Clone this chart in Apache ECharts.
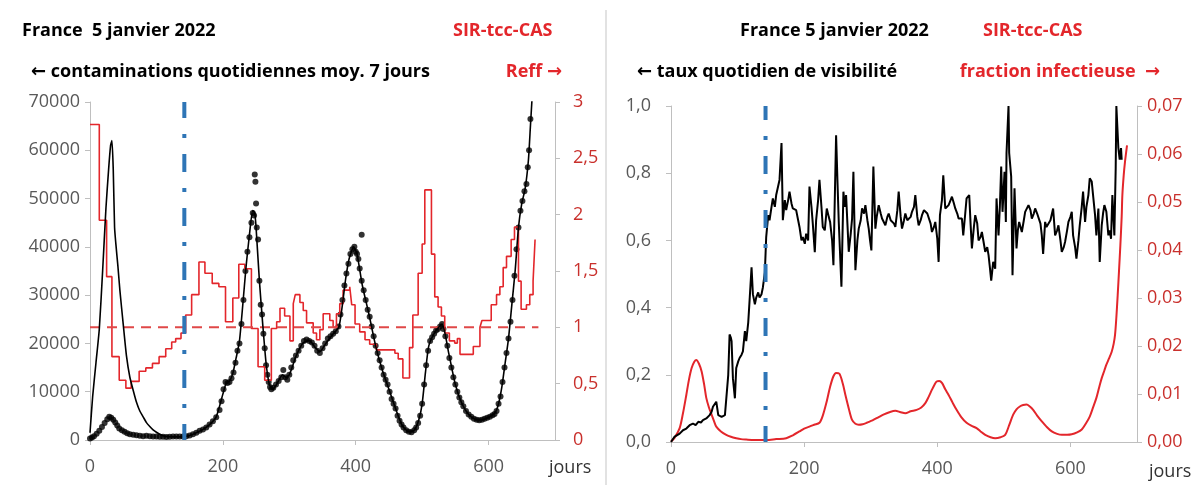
<!DOCTYPE html>
<html>
<head>
<meta charset="utf-8">
<script src="https://cdn.jsdelivr.net/npm/echarts@6/dist/echarts.min.js"></script>
<style>
  html, body { margin: 0; padding: 0; background: #fff; }
  #chart { width: 1195px; height: 485px; }
</style>
</head>
<body>
<div id="chart"></div>
<script>
// cas déclarés, moyenne 7 jours (points)
const reportedCases = [
  [0,300],[3,500],[6,800],[10,1300],[14,1900],[18,2700],[22,3500],[26,4300],[29,4800],[32,4600],
  [35,4200],[38,3600],[41,3000],[44,2400],[48,2000],[52,1700],[56,1400],[60,1200],[65,1100],[70,1000],
  [75,900],[80,800],[85,900],[90,800],[95,700],[100,700],[105,650],[110,650],[115,600],[120,650],
  [125,700],[130,700],[135,700],[140,750],[145,800],[150,950],[155,1200],[160,1500],[165,1900],[170,2200],
  [175,2600],[180,3200],[185,3900],[190,4700],[195,6200],[198,8000],[201,10500],[204,12000],[207,11800],[210,12000],
  [213,12800],[216,14000],[219,16000],[222,18500],[225,20000],[228,24000],[231,29000],[234,35000],[237,39000],[240,42000],
  [243,45000],[245,47000],[247,46500],[248,55000],[249,53500],[250,49000],[251,44000],[253,41500],[255,33000],[257,28000],
  [259,26000],[261,22000],[263,19000],[265,15500],[267,13500],[269,12000],[271,11000],[273,10500],[276,10800],[280,11500],
  [284,12200],[288,13000],[291,14500],[294,13000],[297,12500],[300,13500],[303,15000],[306,16500],[310,17500],[314,18500],
  [318,19500],[322,20500],[326,20800],[330,20500],[334,20200],[338,19500],[342,18500],[346,18000],[350,19000],[354,20000],
  [358,21000],[362,21500],[366,22000],[370,22500],[374,23500],[377,26000],[380,29000],[383,32000],[386,34500],[389,36500],
  [392,38500],[395,39500],[398,40000],[400,39000],[402,38500],[404,37500],[406,35500],[409,42500],[409,33000],[412,31000],
  [415,29000],[418,27000],[421,25500],[424,23500],[427,21500],[430,19500],[433,18000],[436,16500],[439,15000],[442,13500],
  [445,12500],[448,11500],[451,10000],[454,8500],[457,7500],[460,6500],[463,5000],[466,4000],[469,3200],[472,2600],
  [476,2000],[480,1700],[484,1600],[488,2000],[491,2600],[494,3500],[497,5000],[500,7500],[503,11500],[506,15500],
  [509,18500],[512,20500],[515,21300],[518,22000],[521,22700],[524,23000],[527,23500],[530,24000],[532,23000],[535,21500],
  [538,19500],[541,17000],[544,15000],[547,13000],[550,11500],[553,10000],[556,8800],[559,7800],[562,7000],[566,6000],
  [570,5300],[574,4800],[578,4400],[582,4200],[586,4100],[590,4200],[594,4400],[598,4600],[602,4800],[606,5100],
  [609,5400],[612,6000],[615,7500],[618,9000],[621,12000],[624,15000],[627,18000],[630,21000],[633,24500],[636,29000],
  [639,34000],[642,39500],[645,44000],[648,47500],[651,49500],[654,51500],[657,53000],[659,56500],[661,60000],[663,66500]
];

// contaminations du modèle SIR (trait fin)
const modelCases = [
  [0,1500],[4,9000],[9,16000],[14,23000],[19,35000],[24,48000],[28,56000],[31,61000],[33,62000],[35,56000],
  [37,44000],[39,40500],[42,36000],[45,31000],[50,24000],[55,17300],[60,13000],[65,10300],[70,7800],[75,6000],
  [80,4800],[85,3600],[90,2800],[95,2100],[100,1600],[105,1200],[110,900],[115,750],[120,700],[130,650],
  [140,700],[150,950],[160,1500],[170,2200],[180,3200],[190,4800],[200,9500],[205,11800],[210,12200],[215,13800],
  [220,17000],[225,20500],[230,28000],[235,36000],[240,42500],[245,47500],[248,47000],[250,44000],[255,33000],[260,24000],
  [265,16000],[270,11500],[275,10500],[280,11300],[290,13500],[295,13000],[300,13500],[310,17300],[320,20000],[330,20600],
  [340,19000],[346,18300],[355,20000],[365,21800],[375,23500],[385,33500],[390,37500],[397,40000],[402,38500],[410,32000],
  [420,26000],[430,19500],[440,14500],[450,10500],[460,6500],[470,3000],[480,1700],[488,2000],[495,4200],[500,7500],
  [505,14000],[510,19500],[520,22500],[530,24000],[540,18000],[550,11500],[560,7500],[570,5300],[580,4300],[590,4200],
  [600,4700],[610,5700],[615,7500],[620,11000],[625,16000],[630,21000],[635,28000],[640,35000],[645,44000],[650,49000],
  [655,52000],[660,58000],[663,65000],[666,72000]
];

// Reff par paliers (jour de début, valeur)
const reffSteps = [
  [0,2.80],[14,1.95],[25,1.45],[33,0.74],[44,0.53],[54,0.46],[62,0.52],[74,0.61],[84,0.64],[94,0.68],
  [104,0.74],[114,0.81],[123,0.87],[129,0.90],[137,0.95],[144,1.11],[153,1.29],[164,1.58],[173,1.48],[184,1.39],
  [194,1.36],[204,1.05],[215,1.26],[224,1.56],[233,1.52],[243,0.99],[253,0.65],[263,0.53],[273,0.99],[281,1.05],
  [286,1.17],[293,1.10],[301,0.88],[306,1.21],[309,1.29],[316,1.22],[321,1.15],[326,1.04],[336,0.95],[341,0.89],
  [346,0.98],[351,1.12],[361,1.06],[366,1.00],[371,1.12],[376,1.21],[381,1.33],[391,1.36],[394,1.20],[399,1.03],
  [406,0.96],[414,0.89],[421,0.85],[431,0.80],[451,0.80],[459,0.77],[464,0.72],[471,0.55],[481,0.82],[486,1.11],
  [494,1.48],[500,1.74],[504,2.22],[514,1.65],[519,1.27],[524,1.18],[529,1.10],[534,0.95],[541,0.88],[549,0.86],
  [553,0.90],[557,0.76],[577,0.83],[587,1.00],[590,1.06],[604,1.20],[612,1.29],[617,1.36],[622,1.53],[627,1.63],
  [634,1.78],[639,1.89],[645,1.41],[649,1.16],[657,1.20],[662,1.29],[667,1.41],[670,1.78]
];
const reffOne = [[0,1],[675,1]];

// taux quotidien de visibilité
const visibility = [
  [0,0.0],[5,0.015],[13,0.025],[18,0.035],[23,0.04],[28,0.05],[33,0.055],[37,0.05],[41,0.06],[45,0.058],
  [48,0.065],[53,0.07],[56,0.065],[58,0.08],[61,0.09],[63,0.105],[66,0.1],[68,0.12],[71,0.08],[74,0.085],
  [76,0.075],[79,0.08],[81,0.08],[84,0.075],[86,0.2],[88,0.32],[90,0.31],[91,0.3],[93,0.19],[96,0.13],
  [98,0.22],[101,0.24],[103,0.25],[106,0.26],[108,0.27],[111,0.33],[113,0.3],[116,0.355],[118,0.42],[121,0.52],
  [123,0.44],[126,0.41],[128,0.43],[131,0.445],[133,0.43],[136,0.44],[138,0.46],[141,0.505],[143,0.61],[146,0.675],
  [148,0.66],[151,0.7],[153,0.725],[156,0.7],[158,0.735],[161,0.74],[163,0.78],[166,0.89],[168,0.66],[171,0.72],
  [173,0.69],[176,0.72],[178,0.745],[181,0.71],[183,0.695],[186,0.7],[188,0.69],[191,0.66],[193,0.64],[196,0.6],
  [198,0.61],[201,0.59],[203,0.62],[206,0.6],[208,0.76],[211,0.7],[213,0.65],[216,0.565],[218,0.66],[221,0.72],
  [223,0.78],[226,0.7],[228,0.64],[231,0.63],[233,0.625],[234,0.695],[237,0.67],[239,0.655],[242,0.6],[244,0.526],
  [248,0.913],[250,0.78],[252,0.655],[256,0.462],[259,0.745],[261,0.7],[263,0.735],[265,0.65],[267,0.566],[270,0.62],
  [272,0.665],[274,0.804],[277,0.511],[280,0.6],[282,0.635],[285,0.66],[287,0.695],[290,0.68],[292,0.705],[295,0.66],
  [297,0.635],[299,0.6],[301,0.57],[304,0.82],[307,0.635],[309,0.67],[312,0.705],[315,0.68],[317,0.665],[320,0.66],
  [322,0.645],[325,0.67],[327,0.68],[330,0.66],[332,0.665],[335,0.65],[337,0.64],[340,0.69],[342,0.745],[345,0.67],
  [347,0.635],[350,0.66],[352,0.68],[355,0.66],[357,0.655],[360,0.67],[362,0.685],[365,0.7],[367,0.735],[370,0.67],
  [372,0.645],[375,0.66],[377,0.675],[380,0.69],[382,0.695],[385,0.68],[387,0.675],[390,0.65],[392,0.625],[395,0.64],
  [397,0.655],[400,0.605],[402,0.536],[404,0.675],[407,0.72],[409,0.794],[412,0.695],[415,0.7],[417,0.705],[420,0.72],
  [422,0.73],[425,0.71],[427,0.695],[430,0.68],[432,0.665],[435,0.67],[437,0.665],[439,0.615],[442,0.68],[444,0.725],
  [446,0.73],[448,0.735],[450,0.65],[452,0.576],[455,0.64],[457,0.675],[460,0.65],[462,0.6],[465,0.61],[467,0.625],
  [470,0.59],[472,0.566],[475,0.58],[477,0.556],[479,0.52],[481,0.48],[484,0.536],[487,0.516],[489,0.725],[492,0.615],
  [494,0.7],[496,0.82],[498,0.685],[501,0.804],[503,0.655],[504,0.86],[507,1.0],[508,0.86],[511,0.79],[513,0.496],
  [516,0.755],[519,0.576],[521,0.63],[523,0.655],[525,0.64],[527,0.625],[530,0.66],[532,0.685],[535,0.68],[537,0.705],
  [540,0.69],[542,0.665],[545,0.68],[547,0.695],[550,0.68],[552,0.685],[555,0.65],[557,0.615],[559,0.56],[562,0.655],
  [564,0.64],[567,0.645],[570,0.66],[572,0.665],[574,0.695],[577,0.615],[580,0.63],[582,0.645],[585,0.6],[587,0.566],
  [590,0.58],[592,0.596],[595,0.63],[597,0.655],[600,0.67],[602,0.685],[604,0.615],[607,0.58],[609,0.546],[612,0.6],
  [614,0.645],[617,0.7],[619,0.745],[622,0.655],[624,0.7],[627,0.735],[629,0.785],[632,0.775],[634,0.735],[637,0.675],
  [639,0.615],[642,0.695],[644,0.536],[647,0.645],[649,0.68],[651,0.705],[654,0.685],[657,0.615],[659,0.63],[661,0.605],
  [663,0.735],[666,0.615],[668,0.815],[669,1.0],[672,0.875],[674,0.84],[676,0.875],[677,0.84]
];

// fraction infectieuse
const infectious = [
  [0,0.0001],[5,0.0008],[13,0.0029],[18,0.006],[23,0.0098],[27,0.013],[31,0.0154],[35,0.0167],[38,0.0171],[42,0.0163],
  [46,0.0147],[50,0.0118],[53,0.0092],[57,0.0072],[61,0.0057],[65,0.0042],[68,0.0032],[75,0.0022],[83,0.0015],[90,0.0011],
  [98,0.0008],[105,0.0006],[113,0.0005],[125,0.0004],[143,0.0004],[158,0.0006],[173,0.0008],[183,0.0014],[193,0.0022],[200,0.0028],
  [208,0.0032],[215,0.0036],[223,0.004],[228,0.0055],[234,0.0085],[239,0.0115],[244,0.0137],[248,0.0144],[253,0.0142],[258,0.0122],
  [262,0.0098],[267,0.007],[272,0.0046],[277,0.0038],[282,0.0036],[288,0.0037],[294,0.004],[299,0.0043],[304,0.0046],[312,0.0052],
  [319,0.0057],[328,0.0062],[337,0.0065],[345,0.0062],[352,0.006],[360,0.0064],[369,0.0067],[376,0.0072],[382,0.0081],[387,0.0094],
  [392,0.0109],[396,0.012],[399,0.0126],[403,0.0127],[407,0.0123],[412,0.011],[417,0.0098],[423,0.0082],[429,0.0067],[436,0.0052],
  [444,0.004],[451,0.0034],[459,0.0029],[465,0.0022],[472,0.0015],[480,0.001],[487,0.0008],[495,0.001],[502,0.0015],[508,0.0035],
  [514,0.0057],[519,0.0068],[524,0.0074],[529,0.0077],[534,0.0078],[539,0.0074],[544,0.0067],[550,0.0055],[557,0.0043],[564,0.0032],
  [572,0.0022],[580,0.0017],[587,0.0015],[595,0.0015],[602,0.0016],[610,0.002],[617,0.0026],[623,0.0038],[629,0.0053],[634,0.0072],
  [639,0.0092],[643,0.0113],[647,0.0133],[651,0.0149],[654,0.0161],[658,0.0174],[662,0.0188],[665,0.0205],[667,0.0223],[669,0.026],
  [671,0.0306],[673,0.0357],[675,0.041],[677,0.047],[678,0.0514],[680,0.0555],[682,0.0584],[685,0.0618]
];

// date repère (trait bleu)
const markerDay = 142;

const FONT = "'Open Sans', 'DejaVu Sans', sans-serif";
const RED = "#e3262b";
const AXIS_RED = "#c9302c";
const GREY = "#595959";
const comma = (d) => (v) => v.toFixed(d).replace(".", ",");

const chart = echarts.init(document.getElementById("chart"));

const titleStyle = (color) => ({
  fontFamily: FONT, fontWeight: "bold", fontSize: 18, color: color, lineHeight: 20,
});
const mkTitle = (text, pos, color) =>
  Object.assign({ text: text, padding: 0, textStyle: titleStyle(color) }, pos);

const axisBase = {
  axisLine: { show: true, lineStyle: { color: "#bfbfbf", width: 1 } },
  axisTick: { show: true, length: 5, lineStyle: { color: "#bfbfbf" } },
  splitLine: { show: false },
};
const lbl = (color, extra) =>
  Object.assign({ fontFamily: FONT, fontSize: 18, color: color }, extra);

chart.setOption({
  animation: false,
  backgroundColor: "#fff",
  title: [
    mkTitle("France  5 janvier 2022", { left: 22, top: 21 }, "#000"),
    mkTitle("SIR-tcc-CAS", { left: 453, top: 21 }, RED),
    mkTitle("← contaminations quotidiennes moy. 7 jours", { left: 31, top: 62 }, "#000"),
    mkTitle("Reff →", { right: 1195 - 562, top: 62 }, RED),
    mkTitle("France 5 janvier 2022", { left: 740, top: 21 }, "#000"),
    mkTitle("SIR-tcc-CAS", { left: 983, top: 21 }, RED),
    mkTitle("← taux quotidien de visibilité", { left: 637, top: 62 }, "#000"),
    mkTitle("fraction infectieuse  →", { right: 1195 - 1160, top: 62 }, RED),
  ],
  grid: [
    { left: 90, top: 102, width: 465, height: 338 },
    { left: 671, top: 106, width: 466, height: 336 },
  ],
  xAxis: [
    Object.assign({}, axisBase, {
      type: "value", gridIndex: 0, min: 0, max: 700, interval: 200,
      name: "jours", nameLocation: "end", nameGap: -6,
      nameTextStyle: { fontFamily: FONT, fontSize: 18, color: "#333", verticalAlign: "top", padding: [19, 0, 0, 0] },
      axisLabel: lbl(GREY, { margin: 18, showMaxLabel: false }),
    }),
    Object.assign({}, axisBase, {
      type: "value", gridIndex: 1, min: 0, max: 700, interval: 200,
      name: "jours", nameLocation: "end", nameGap: 12,
      nameTextStyle: { fontFamily: FONT, fontSize: 18, color: "#333", verticalAlign: "top", padding: [21, 0, 0, 0] },
      axisLabel: lbl(GREY, { margin: 18, showMaxLabel: false }),
    }),
  ],
  yAxis: [
    Object.assign({}, axisBase, {
      type: "value", gridIndex: 0, position: "left", min: 0, max: 70000, interval: 10000,
      axisLabel: lbl(GREY, { margin: 10, formatter: (v) => String(v) }),
    }),
    Object.assign({}, axisBase, {
      type: "value", gridIndex: 0, position: "right", min: 0, max: 3, interval: 0.5,
      axisLabel: lbl(AXIS_RED, { margin: 18, formatter: (v) => String(v).replace(".", ",") }),
    }),
    Object.assign({}, axisBase, {
      type: "value", gridIndex: 1, position: "left", min: 0, max: 1, interval: 0.2,
      axisLabel: lbl(GREY, { margin: 20, formatter: comma(1) }),
    }),
    Object.assign({}, axisBase, {
      type: "value", gridIndex: 1, position: "right", min: 0, max: 0.07, interval: 0.01,
      axisLabel: lbl(AXIS_RED, { margin: 10, formatter: comma(2) }),
    }),
  ],
  graphic: [
    {
      type: "line", shape: { x1: 606, y1: 10, x2: 606, y2: 485 },
      style: { stroke: "#d9d9d9", lineWidth: 1.5 }, silent: true,
    },
  ],
  series: [
    {
      name: "Reff", type: "line", xAxisIndex: 0, yAxisIndex: 1, data: reffSteps,
      step: "end", showSymbol: false, lineStyle: { color: RED, width: 1.6 },
    },
    {
      name: "Reff = 1", type: "line", xAxisIndex: 0, yAxisIndex: 1, data: reffOne,
      showSymbol: false, lineStyle: { color: "#e04848", width: 2, type: [10, 7] },
    },
    {
      name: "modèle", type: "line", xAxisIndex: 0, yAxisIndex: 0, data: modelCases,
      showSymbol: false, smooth: 0.2, lineStyle: { color: "#000", width: 1.6 },
    },
    {
      name: "cas", type: "scatter", xAxisIndex: 0, yAxisIndex: 0, data: reportedCases,
      symbolSize: 6, itemStyle: { color: "#000" },
    },
    {
      name: "repère", type: "line", xAxisIndex: 0, yAxisIndex: 0,
      data: [[markerDay, 0], [markerDay, 70000]], showSymbol: false,
      lineStyle: { color: "#2e75b6", width: 4, type: [18, 16, 4, 16], dashOffset: 2, cap: "butt" },
    },
    {
      name: "fraction infectieuse", type: "line", xAxisIndex: 1, yAxisIndex: 3, data: infectious,
      showSymbol: false, smooth: 0.3, lineStyle: { color: RED, width: 2 },
    },
    {
      name: "visibilité", type: "line", xAxisIndex: 1, yAxisIndex: 2, data: visibility,
      showSymbol: false, lineStyle: { color: "#000", width: 2 },
    },
    {
      name: "repère 2", type: "line", xAxisIndex: 1, yAxisIndex: 2,
      data: [[markerDay, 0], [markerDay, 1]], showSymbol: false,
      lineStyle: { color: "#2e75b6", width: 4, type: [18, 16, 4, 16], dashOffset: 2, cap: "butt" },
    },
  ],
});
</script>
</body>
</html>
